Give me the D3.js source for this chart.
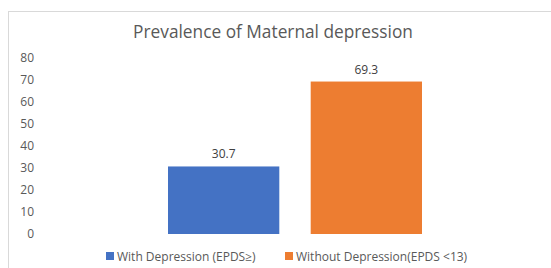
<!DOCTYPE html>
<html>
<head>
<meta charset="utf-8">
<script src="https://cdn.jsdelivr.net/npm/d3@7"></script>
<style>
  body { margin: 0; background: #fff; }
  svg { display: block; font-family: "Open Sans", "Noto Sans", sans-serif; }
</style>
</head>
<body>
<svg id="chart" width="551" height="268"></svg>
<script>
const categories = ['With Depression (EPDS\u2265)', 'Without Depression(EPDS <13)'];
const values = [30.7, 69.3];
const colors = ['#4472C4', '#ED7D31'];
const yTicks = [0, 10, 20, 30, 40, 50, 60, 70, 80];

const svg = d3.select('#chart');
const width = 551, height = 268;

// chart frame
svg.append('rect')
  .attr('x', 8.5).attr('y', 11.5)
  .attr('width', width).attr('height', height)
  .attr('fill', '#fff')
  .attr('stroke', '#d9d9d9');

svg.append('text')
  .attr('x', 273).attr('y', 38)
  .attr('text-anchor', 'middle')
  .attr('font-size', 17.3)
  .attr('fill', '#595959')
  .text('Prevalence of Maternal depression');

const x = d3.scaleBand()
  .domain(categories)
  .range([168, 422])
  .paddingInner(0.22)
  .paddingOuter(0);

const y = d3.scaleLinear()
  .domain([0, 80])
  .range([234, 58]);

const yAxis = d3.axisLeft(y).tickValues(yTicks).tickSize(0).tickPadding(0);
const ya = svg.append('g')
  .attr('transform', 'translate(34,0)')
  .call(yAxis);
ya.select('.domain').remove();
ya.selectAll('text')
  .attr('font-size', 12)
  .attr('fill', '#595959')
  .attr('font-family', '"Open Sans", sans-serif');

svg.append('g').selectAll('rect')
  .data(values)
  .join('rect')
  .attr('x', (d, i) => x(categories[i]))
  .attr('y', d => y(d))
  .attr('width', x.bandwidth())
  .attr('height', d => y(0) - y(d))
  .attr('fill', (d, i) => colors[i]);

svg.append('g').selectAll('text')
  .data(values)
  .join('text')
  .attr('x', (d, i) => x(categories[i]) + x.bandwidth() / 2)
  .attr('y', d => y(d) - 8)
  .attr('text-anchor', 'middle')
  .attr('font-size', 12)
  .attr('fill', '#404040')
  .text(d => d.toFixed(1));

// legend
const legendX = [106, 285];
const lg = svg.append('g').selectAll('g')
  .data(categories)
  .join('g')
  .attr('transform', (d, i) => `translate(${legendX[i]},256)`);
lg.append('rect')
  .attr('x', 0).attr('y', -4)
  .attr('width', 8).attr('height', 8)
  .attr('fill', (d, i) => colors[i]);
lg.append('text')
  .attr('x', 11).attr('y', 4.5)
  .attr('font-size', 12)
  .attr('fill', '#595959')
  .text(d => d);
</script>
</body>
</html>
